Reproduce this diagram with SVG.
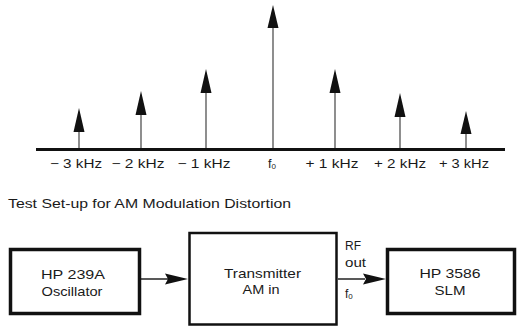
<svg xmlns="http://www.w3.org/2000/svg" width="517" height="326" viewBox="0 0 517 326">
<style>
  text { font-family: "Liberation Sans", Arial, sans-serif; fill: #1a1a1a; }
  .lbl { font-size: 12.5px; text-anchor: middle; }
  .node { font-size: 13.5px; text-anchor: middle; }
  .small { font-size: 12px; }
  .box { fill: #fff; stroke: #111; }
  .stem { stroke: #444; stroke-width: 1.2; fill: none; }
  .head { fill: #111; }
  .conn { stroke: #222; stroke-width: 1.5; fill: none; }
</style>
<rect width="517" height="326" fill="#fff"/>

<g id="spectrum">
  <line x1="36" y1="149.5" x2="505" y2="149.5" stroke="#111" stroke-width="3"/>
  <g id="line-m3">
    <line class="stem" x1="79" y1="130" x2="79" y2="148"/>
    <polygon class="head" points="79,108 84.5,132 73.5,132"/>
  </g>
  <g id="line-m2">
    <line class="stem" x1="141" y1="113" x2="141" y2="148"/>
    <polygon class="head" points="141,91 146.5,115 135.5,115"/>
  </g>
  <g id="line-m1">
    <line class="stem" x1="206" y1="91" x2="206" y2="148"/>
    <polygon class="head" points="206,69 211.5,93 200.5,93"/>
  </g>
  <g id="line-f0">
    <line class="stem" x1="273" y1="27" x2="273" y2="148"/>
    <polygon class="head" points="273,5 278.5,28 267.5,28"/>
  </g>
  <g id="line-p1">
    <line class="stem" x1="335" y1="91" x2="335" y2="148"/>
    <polygon class="head" points="335,69 340.5,93 329.5,93"/>
  </g>
  <g id="line-p2">
    <line class="stem" x1="400" y1="115" x2="400" y2="148"/>
    <polygon class="head" points="400,93 405.5,117 394.5,117"/>
  </g>
  <g id="line-p3">
    <line class="stem" x1="466" y1="132" x2="466" y2="148"/>
    <polygon class="head" points="466,111 471.5,134 460.5,134"/>
  </g>
  <text class="lbl" x="76" y="168" textLength="52" lengthAdjust="spacingAndGlyphs">− 3 kHz</text>
  <text class="lbl" x="138" y="168" textLength="53" lengthAdjust="spacingAndGlyphs">− 2 kHz</text>
  <text class="lbl" x="204" y="168" textLength="53" lengthAdjust="spacingAndGlyphs">− 1 kHz</text>
  <text class="lbl" x="272" y="168">f<tspan font-size="8" dy="1">0</tspan></text>
  <text class="lbl" x="332" y="168" textLength="53" lengthAdjust="spacingAndGlyphs">+ 1 kHz</text>
  <text class="lbl" x="400" y="168" textLength="52" lengthAdjust="spacingAndGlyphs">+ 2 kHz</text>
  <text class="lbl" x="464" y="168" textLength="50" lengthAdjust="spacingAndGlyphs">+ 3 kHz</text>
</g>

<text x="8" y="208" font-size="13" textLength="283" lengthAdjust="spacingAndGlyphs">Test Set-up for AM Modulation Distortion</text>

<g id="connectors">
  <g id="osc-to-tx">
    <line class="conn" x1="141" y1="279" x2="168" y2="279"/>
    <polygon class="head" points="188,279 165,273.5 168,279 165,284.5"/>
  </g>
  <g id="tx-to-slm">
    <line class="conn" x1="338" y1="279" x2="365" y2="279"/>
    <polygon class="head" points="386,279 363,273.5 366,279 363,284.5"/>
  </g>
  <text class="small" x="345" y="250" font-size="13.5">RF</text>
  <text class="small" x="345" y="267" textLength="21" lengthAdjust="spacingAndGlyphs">out</text>
  <text class="small" x="345" y="298">f<tspan font-size="8" dy="1">0</tspan></text>
</g>

<g id="node-osc">
  <rect class="box" x="10.5" y="249.5" width="129" height="64" stroke-width="3.5"/>
  <text class="node" x="73" y="279" textLength="64" lengthAdjust="spacingAndGlyphs">HP 239A</text>
  <text class="node" x="72" y="296" textLength="61" lengthAdjust="spacingAndGlyphs">Oscillator</text>
</g>

<g id="node-tx">
  <rect class="box" x="189.5" y="233" width="147" height="91.5" stroke-width="2.5"/>
  <text class="node" x="262.5" y="278" textLength="77" lengthAdjust="spacingAndGlyphs">Transmitter</text>
  <text class="node" x="261" y="294" textLength="37" lengthAdjust="spacingAndGlyphs">AM in</text>
</g>

<g id="node-slm">
  <rect class="box" x="387.5" y="249.5" width="127" height="64" stroke-width="3.5"/>
  <text class="node" x="450" y="278" textLength="61" lengthAdjust="spacingAndGlyphs">HP 3586</text>
  <text class="node" x="450" y="295" textLength="31" lengthAdjust="spacingAndGlyphs">SLM</text>
</g>
</svg>
